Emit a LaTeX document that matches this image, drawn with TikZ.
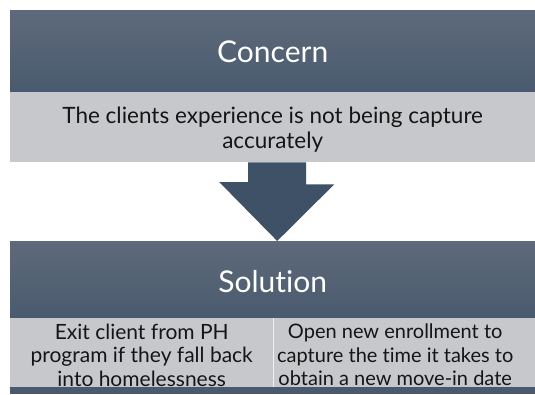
\documentclass[tikz,border=0pt]{standalone}
\usepackage{fontspec}
\setmainfont[Ligatures={NoCommon}]{Lato}
\usepackage{tikz}
\usetikzlibrary{positioning}

\definecolor{barTop}{HTML}{5E6A7B}
\definecolor{barBottom}{HTML}{4A5A6E}
\definecolor{cellFill}{HTML}{C7C8CB}
\definecolor{arrowFill}{HTML}{3F5167}
\definecolor{textDark}{HTML}{151515}

\begin{document}
\begin{tikzpicture}[x=1pt,y=-1pt,
    header/.style={anchor=north west,inner sep=0pt,minimum width=525pt,
      top color=barTop,bottom color=barBottom},
    title/.style={text=white,font=\fontsize{30}{32}\selectfont},
    cell/.style={anchor=north west,inner sep=0pt,fill=cellFill},
    celltext/.style={text=textDark,align=center,inner sep=0pt,
      font=\fontsize{21}{23.5}\selectfont}]

\useasboundingbox[fill=white] (0,0) rectangle (535,394);

% Concern block
\node[header,minimum height=82pt] (concern) at (10,10) {};
\node[title] (concerntext) at ([yshift=-1pt]concern.center) {Concern};
\node[cell,minimum width=525pt,minimum height=70pt] (problem) at (10,92) {};
\node[celltext,font=\fontsize{22.5}{25}\selectfont] (problemtext)
  at ([yshift=-2.5pt]problem.center) {The clients experience is not being capture\\accurately};

% Solution block
\node[header,minimum height=77pt] (solution) at (10,241) {};
\node[title] (solutiontext) at ([yshift=-2pt]solution.center) {Solution};
\node[cell,minimum width=263pt,minimum height=69pt] (exitcell) at (10,318) {};
\node[cell,minimum width=262pt,minimum height=69pt] (opencell) at (273,318) {};
\node[celltext] (exittext) at ([yshift=-2.5pt]exitcell.center)
  {Exit client from PH\\program if they fall back\\into homelessness};
\node[celltext,font=\fontsize{20}{23.5}\selectfont] (opentext)
  at ([xshift=-9pt,yshift=-2.5pt]opencell.center)
  {Open new enrollment to\\capture the time it takes to\\obtain a new move-in date};
\draw[white!88!gray,line width=1pt] (exitcell.north east) -- (exitcell.south east);

% strip under the cells
\fill[barBottom] (exitcell.south west) rectangle (535,394);

% Down arrow from concern to solution
\fill[arrowFill] (problem.south) ++(-24.5,0) -- ++(58,0) -- ++(0,22) -- ++(28,0)
  -- ([xshift=4.5pt]solution.north) -- ++(-58,-59) -- ++(29,0) -- cycle;

\end{tikzpicture}
\end{document}
